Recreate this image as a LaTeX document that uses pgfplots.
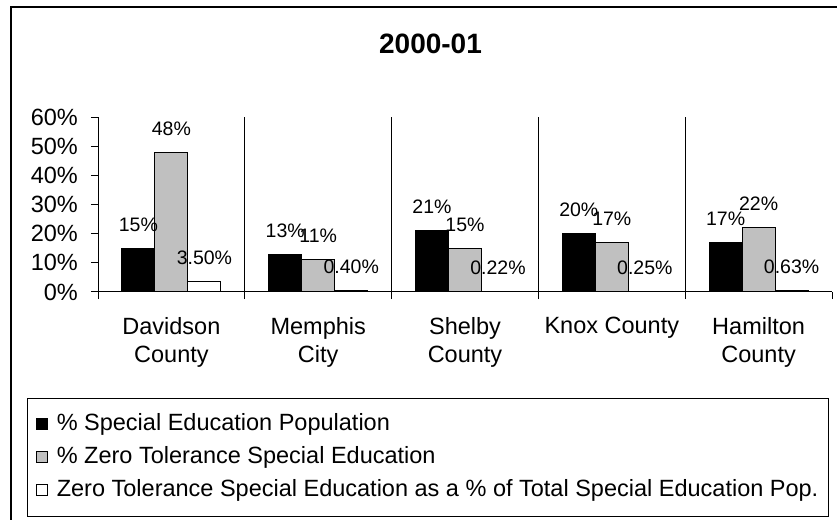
\documentclass[border=0pt]{standalone}
\usepackage{pgfplots}
\pgfplotsset{compat=1.18}
\usepackage{fontspec}
\setmainfont{Liberation Sans}
\definecolor{barGray}{RGB}{192,192,192}
\pgfplotsset{sqlegend/.style={legend image code/.code={\draw[##1, line width=0.8pt] (0pt,-5pt) rectangle (11pt,6pt); \path (20pt,0pt);}}}
\begin{document}
\begin{tikzpicture}[x=1pt,y=1pt]
\begin{axis}[
  at={(98pt,227pt)}, anchor=south west,
  scale only axis, width=734pt, height=175pt,
  xmin=-0.5, xmax=4.5, ymin=0, ymax=60,
  clip=false,
  axis x line=bottom, axis y line=left,
  axis line style={-, line width=1pt, black},
  ybar=0pt, bar width=33pt,
  tick align=outside, major tick length=7pt,
  tick style={black, line width=1pt},
  xtick={-0.5,0.5,1.5,2.5,3.5,4.5}, xticklabels={},
  extra x ticks={0,1,2,3,4},
  extra x tick labels={{Davidson\\County},{Memphis\\City},{Shelby\\County},{Knox County},{Hamilton\\County}},
  extra x tick style={major tick length=0pt, xticklabel style={align=center, anchor=north, inner sep=0pt, yshift=-25pt, font=\fontsize{23.5}{28}\selectfont}},
  ytick={0,10,20,30,40,50,60},
  yticklabels={0\%,10\%,20\%,30\%,40\%,50\%,60\%},
  yticklabel style={anchor=east, inner sep=0pt, xshift=-13pt, font=\fontsize{23.5}{26}\selectfont},
  point meta=explicit symbolic,
  nodes near coords={\pgfplotspointmeta\%},
  every node near coord/.append style={anchor=base, yshift=17pt, inner sep=0pt, font=\fontsize{19.5}{22}\selectfont, black},
  legend style={at={(-0.0849,-0.6914)}, anchor=north west, draw=none, fill=none, inner sep=0pt,
    font=\fontsize{23.5}{27}\selectfont, row sep=11pt,
    nodes={inner sep=0pt, text height=17pt, text depth=5pt}},
  legend cell align=left,
]
\addplot[fill=black, draw=black, line width=1pt, sqlegend]
  table[x=x, y=y, meta=l] {
x y l
0 15 15
1 13 13
2 21 21
3 20 20
4 17 17
};
\addlegendentry{\% Special Education Population}
\addplot[fill=barGray, draw=black, line width=1pt, sqlegend]
  table[x=x, y=y, meta=l] {
x y l
0 48 48
1 11 11
2 15 15
3 17 17
4 22 22
};
\addlegendentry{\% Zero Tolerance Special Education}
\addplot[fill=white, draw=black, line width=1pt, sqlegend]
  table[x=x, y=y, meta=l] {
x y l
0 3.5 3.50
1 0.4 0.40
2 0.22 0.22
3 0.25 0.25
4 0.63 0.63
};
\addlegendentry{Zero Tolerance Special Education as a \% of Total Special Education Pop.}
\draw[black, line width=0.8pt] (axis cs:0.5,0) -- (axis cs:0.5,60);
\draw[black, line width=0.8pt] (axis cs:1.5,0) -- (axis cs:1.5,60);
\draw[black, line width=0.8pt] (axis cs:2.5,0) -- (axis cs:2.5,60);
\draw[black, line width=0.8pt] (axis cs:3.5,0) -- (axis cs:3.5,60);
\end{axis}
\node[anchor=base, inner sep=0pt, font=\fontsize{28}{32}\selectfont\bfseries] at (430.5,465) {2000-01};
\draw[black, line width=1pt] (27,3) rectangle (828,120);
\draw[black, line width=2pt] (11,-10) -- (11,512) -- (850,512);
\pgfresetboundingbox
\path[use as bounding box] (0,0) rectangle (837,519);
\end{tikzpicture}
\end{document}
